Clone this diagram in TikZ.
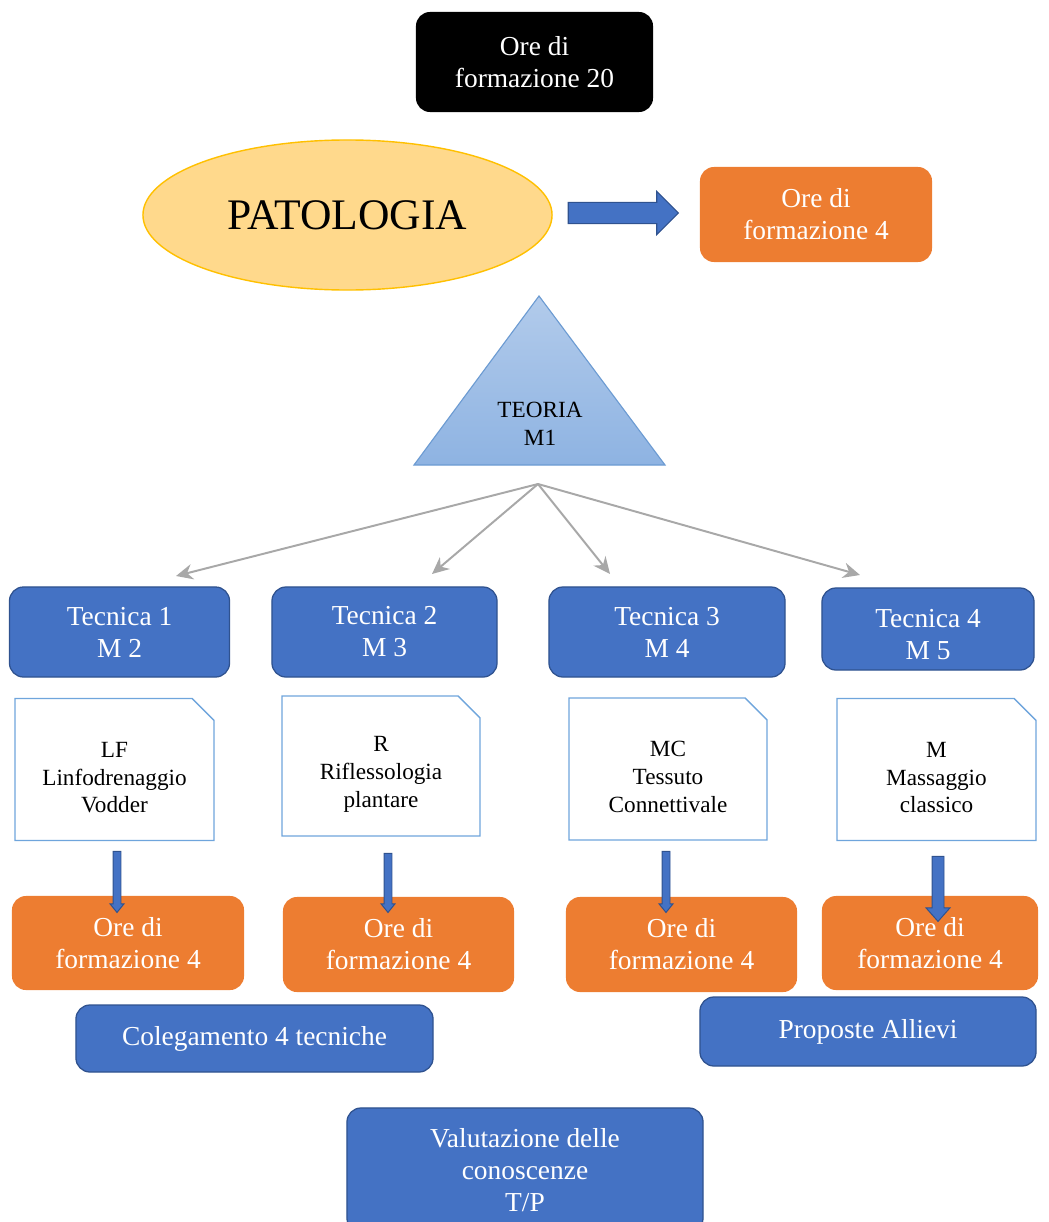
\documentclass[tikz,border=0pt]{standalone}
\usepackage{fontspec}
\setmainfont{Liberation Serif}
\usetikzlibrary{shapes.geometric,shapes.misc,shapes.arrows,arrows.meta}

\definecolor{blockblue}{HTML}{4472C4}
\definecolor{blueline}{HTML}{2F528F}
\definecolor{oreorange}{HTML}{ED7D31}
\definecolor{docblue}{HTML}{6FA5DC}
\definecolor{patfill}{HTML}{FFD98C}
\definecolor{patline}{HTML}{FFC000}
\definecolor{teotop}{HTML}{B2CBEB}
\definecolor{teobottom}{HTML}{8EB3E2}
\definecolor{teoline}{HTML}{6C9BD2}
\definecolor{forkgray}{HTML}{A8A8A8}

\newcommand\boxfont{\fontsize{19.5}{22.7}\selectfont}
\newcommand\docfont{\fontsize{16.5}{19.8}\selectfont}
\newcommand\docstrut{\rule{0pt}{22.3pt}}

\tikzset{
	box/.style={rectangle, rounded corners=0.35cm, align=center, text=white, font=\boxfont},
	tecnica/.style={box, draw=blueline, fill=blockblue, line width=0.9pt},
	orebox/.style={box, fill=oreorange},
	doc/.style={chamfered rectangle, chamfered rectangle corners=north east,
		chamfered rectangle xsep=0.275cm, chamfered rectangle ysep=0.275cm,
		draw=docblue, line width=1pt, fill=white, align=center, font=\docfont},
	fork/.style={draw=forkgray, line width=1.4pt, -{Stealth[length=12pt,width=11pt]}},
	blockarrow/.style={single arrow, draw=blueline, fill=blockblue, line width=0.8pt},
	downarrow/.style={blockarrow, shape border rotate=270, inner sep=0.0875cm,
		single arrow head extend=0.075cm, single arrow tip angle=78, line width=0.7pt}
}

\begin{document}
\begin{tikzpicture}[x=0.025cm, y=-0.025cm]
		\useasboundingbox (0,0) rectangle (1049,1222);
		
		%top nodes
		\node (Ore Totali) at (534.5,62) [box, fill=black, minimum width=5.925cm, 
		minimum height=2.5cm]{Ore di \\ formazione 20};
		\node (Patologia) at (347.5,215) [ellipse, draw=patline, fill=patfill, line width=1pt, 
		minimum width=10.225cm, minimum height=3.75cm, font=\fontsize{31}{36}\selectfont]{PATOLOGIA};
		\node (Ore Patologia) at (816,214.5) [orebox, minimum width=5.8cm, 
		minimum height=2.375cm]{Ore di \\ formazione 4};
		\node (Freccia Patologia) at (618,213) [blockarrow, minimum height=2.75cm, inner sep=0.25cm, 
		single arrow head extend=0.275cm]{};
		
		%teoria
		\draw[draw=teoline, line width=0.8pt, top color=teotop, bottom color=teobottom] 
		(539,296) -- (665,465) -- (414,465) -- cycle;
		\node (Teoria) at (540,424) [align=center, font=\docfont]{TEORIA \\ M1};
		\coordinate (Fork) at (538,484);
		\coordinate (Fork 1) at (176,576);
		\coordinate (Fork 2) at (432,574);
		\coordinate (Fork 3) at (610,574);
		\coordinate (Fork 4) at (860,575);
		
		%tecniche
		\node (Tecnica 1) at (119.5,632) [tecnica, minimum width=5.5cm, minimum height=2.25cm]{Tecnica 1 \\ M 2};
		\node (Tecnica 2) at (384.5,632) [tecnica, minimum width=5.625cm, minimum height=2.25cm]{Tecnica 2 \\ M 3};
		\node (Tecnica 3) at (667,632) [tecnica, minimum width=5.9cm, minimum height=2.25cm]{Tecnica 3 \\ M 4};
		\node (Tecnica 4) at (928,629) [tecnica, minimum width=5.3cm, minimum height=2.05cm]{\rule{0pt}{21.4pt}Tecnica 4 \\ M 5};
		
		%teoria links
		\draw[fork] (Fork) -- (Fork 1);
		\draw[fork] (Fork) -- (Fork 2);
		\draw[fork] (Fork) -- (Fork 3);
		\draw[fork] (Fork) -- (Fork 4);
		
		%descrizioni
		\node (Doc 1) at (114.5,769.5) [doc, minimum width=4.975cm, minimum height=3.55cm]{\docstrut LF \\ Linfodrenaggio \\ Vodder};
		\node (Doc 2) at (381,766) [doc, minimum width=4.95cm, minimum height=3.5cm]{\docstrut R \\ Riflessologia \\ plantare};
		\node (Doc 3) at (668,769) [doc, minimum width=4.95cm, minimum height=3.55cm]{\docstrut MC \\ Tessuto \\ Connettivale};
		\node (Doc 4) at (936.5,769.5) [doc, minimum width=4.975cm, minimum height=3.55cm]{\docstrut M \\ Massaggio \\ classico};
		
		%ore tecniche
		\node (Ore 1) at (128,943) [orebox, minimum width=5.8cm, minimum height=2.35cm]{Ore di \\ formazione 4};
		\node (Ore 2) at (398.5,944.5) [orebox, minimum width=5.775cm, minimum height=2.375cm]{Ore di \\ formazione 4};
		\node (Ore 3) at (681.5,944.5) [orebox, minimum width=5.775cm, minimum height=2.375cm]{Ore di \\ formazione 4};
		\node (Ore 4) at (930,943) [orebox, minimum width=5.4cm, minimum height=2.35cm]{Ore di \\ formazione 4};
		
		%frecce
		\node (Freccia 1) at (117,879.5) [downarrow, minimum height=1.525cm]{};
		\node (Freccia 2) at (388,880.5) [downarrow, minimum height=1.475cm]{};
		\node (Freccia 3) at (666,879.5) [downarrow, minimum height=1.525cm]{};
		\node (Freccia 4) at (938,885.5) [downarrow, minimum height=1.625cm, inner sep=0.1375cm, 
		single arrow head extend=0.15cm, single arrow tip angle=83]{};
		
		%chiusura
		\node (Colegamento) at (254.5,1038.5) [tecnica, minimum width=8.925cm, minimum height=1.675cm]{Colegamento 4 tecniche};
		\node (Proposte) at (868,1031.5) [tecnica, minimum width=8.4cm, minimum height=1.725cm]{Proposte Allievi};
		\node (Valutazione) at (525,1170) [tecnica, minimum width=8.9cm, minimum height=3.1cm]{Valutazione delle \\ conoscenze \\ T/P};
		
\end{tikzpicture}
\end{document}
